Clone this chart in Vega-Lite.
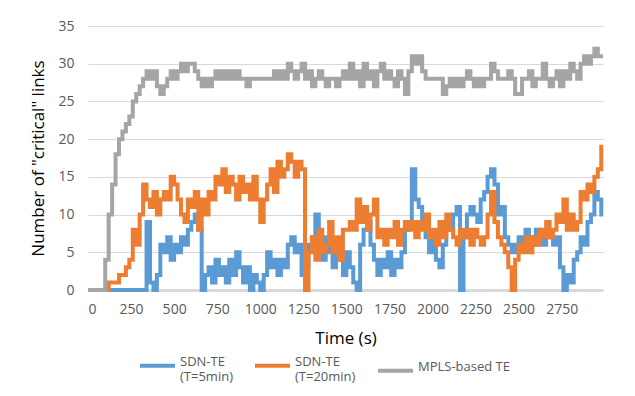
{
"$schema": "https://vega.github.io/schema/vega-lite/v6.json",
"width": 515, "height": 264,
"autosize": "none",
"padding": {"left": 88, "top": 26, "right": 32, "bottom": 106},
"background": "white",
"config": {"view": {"stroke": null}, "font": "Open Sans"},
"data": {"values": [
{"t":0,"b":0,"o":0,"g":0},{"t":20,"b":0,"o":0,"g":0},{"t":40,"b":0,"o":0,"g":0},{"t":60,"b":0,"o":0,"g":0},{"t":80,"b":0,"o":0,"g":0},
{"t":100,"b":0,"o":0,"g":4},{"t":120,"b":0,"o":1,"g":10},{"t":140,"b":0,"o":1,"g":14},{"t":160,"b":0,"o":1,"g":18},{"t":180,"b":0,"o":2,"g":20},
{"t":200,"b":0,"o":2,"g":21},{"t":220,"b":0,"o":3,"g":22},{"t":240,"b":0,"o":4,"g":23},{"t":260,"b":0,"o":8,"g":25},{"t":280,"b":0,"o":6,"g":26},
{"t":300,"b":0,"o":10,"g":27},{"t":320,"b":0,"o":14,"g":28},{"t":340,"b":9,"o":12,"g":29},{"t":360,"b":1,"o":11,"g":28},{"t":380,"b":0,"o":13,"g":29},
{"t":400,"b":2,"o":10,"g":27},{"t":420,"b":6,"o":12,"g":26},{"t":440,"b":5,"o":13,"g":27},{"t":460,"b":7,"o":12,"g":28},{"t":480,"b":4,"o":15,"g":29},
{"t":500,"b":6,"o":14,"g":28},{"t":520,"b":5,"o":12,"g":29},{"t":540,"b":7,"o":10,"g":30},{"t":560,"b":6,"o":9,"g":29},{"t":580,"b":8,"o":12,"g":30},
{"t":600,"b":9,"o":11,"g":30},{"t":620,"b":10,"o":13,"g":29},{"t":640,"b":8,"o":8,"g":28},{"t":660,"b":0,"o":12,"g":27},{"t":680,"b":2,"o":10,"g":28},
{"t":700,"b":3,"o":13,"g":27},{"t":720,"b":1,"o":12,"g":28},{"t":740,"b":4,"o":15,"g":29},{"t":760,"b":2,"o":14,"g":28},{"t":780,"b":3,"o":16,"g":29},
{"t":800,"b":1,"o":13,"g":28},{"t":820,"b":4,"o":15,"g":29},{"t":840,"b":2,"o":14,"g":28},{"t":860,"b":5,"o":12,"g":29},{"t":880,"b":3,"o":15,"g":28},
{"t":900,"b":1,"o":13,"g":28},{"t":920,"b":3,"o":14,"g":27},{"t":940,"b":0,"o":12,"g":28},{"t":960,"b":2,"o":15,"g":28},{"t":980,"b":1,"o":12,"g":28},
{"t":1000,"b":0,"o":9,"g":28},{"t":1020,"b":2,"o":12,"g":28},{"t":1040,"b":5,"o":14,"g":28},{"t":1060,"b":3,"o":16,"g":28},{"t":1080,"b":4,"o":13,"g":29},
{"t":1100,"b":2,"o":17,"g":28},{"t":1120,"b":4,"o":15,"g":29},{"t":1140,"b":3,"o":16,"g":28},{"t":1160,"b":6,"o":18,"g":30},{"t":1180,"b":7,"o":17,"g":29},
{"t":1200,"b":5,"o":15,"g":28},{"t":1220,"b":6,"o":17,"g":29},{"t":1240,"b":2,"o":16,"g":30},{"t":1260,"b":3,"o":0,"g":28},{"t":1280,"b":6,"o":5,"g":29},
{"t":1300,"b":7,"o":7,"g":27},{"t":1320,"b":10,"o":4,"g":28},{"t":1340,"b":6,"o":8,"g":29},{"t":1360,"b":4,"o":5,"g":28},{"t":1380,"b":7,"o":6,"g":27},
{"t":1400,"b":5,"o":9,"g":28},{"t":1420,"b":3,"o":5,"g":28},{"t":1440,"b":6,"o":7,"g":27},{"t":1460,"b":4,"o":4,"g":28},{"t":1480,"b":2,"o":8,"g":29},
{"t":1500,"b":5,"o":8,"g":28},{"t":1520,"b":3,"o":9,"g":30},{"t":1540,"b":1,"o":8,"g":28},{"t":1560,"b":0,"o":12,"g":29},{"t":1580,"b":6,"o":9,"g":27},
{"t":1600,"b":8,"o":11,"g":30},{"t":1620,"b":9,"o":8,"g":28},{"t":1640,"b":6,"o":10,"g":29},{"t":1660,"b":4,"o":12,"g":27},{"t":1680,"b":2,"o":7,"g":29},
{"t":1700,"b":4,"o":8,"g":30},{"t":1720,"b":3,"o":6,"g":28},{"t":1740,"b":5,"o":8,"g":29},{"t":1760,"b":2,"o":7,"g":28},{"t":1780,"b":4,"o":9,"g":27},
{"t":1800,"b":3,"o":6,"g":29},{"t":1820,"b":5,"o":8,"g":28},{"t":1840,"b":8,"o":9,"g":26},{"t":1860,"b":9,"o":8,"g":29},{"t":1880,"b":16,"o":9,"g":31},
{"t":1900,"b":12,"o":7,"g":30},{"t":1920,"b":11,"o":9,"g":31},{"t":1940,"b":9,"o":8,"g":29},{"t":1960,"b":7,"o":10,"g":28},{"t":1980,"b":5,"o":7,"g":28},
{"t":2000,"b":7,"o":8,"g":28},{"t":2020,"b":4,"o":6,"g":28},{"t":2040,"b":3,"o":9,"g":28},{"t":2060,"b":6,"o":7,"g":26},{"t":2080,"b":9,"o":10,"g":27},
{"t":2100,"b":8,"o":8,"g":28},{"t":2120,"b":10,"o":7,"g":27},{"t":2140,"b":11,"o":6,"g":28},{"t":2160,"b":0,"o":8,"g":27},{"t":2180,"b":7,"o":7,"g":28},
{"t":2200,"b":10,"o":8,"g":29},{"t":2220,"b":11,"o":6,"g":28},{"t":2240,"b":10,"o":8,"g":27},{"t":2260,"b":9,"o":7,"g":28},{"t":2280,"b":12,"o":6,"g":27},
{"t":2300,"b":13,"o":7,"g":28},{"t":2320,"b":15,"o":10,"g":28},{"t":2340,"b":16,"o":13,"g":30},{"t":2360,"b":14,"o":9,"g":29},{"t":2380,"b":10,"o":7,"g":28},
{"t":2400,"b":11,"o":6,"g":28},{"t":2420,"b":7,"o":5,"g":28},{"t":2440,"b":6,"o":3,"g":29},{"t":2460,"b":5,"o":0,"g":28},{"t":2480,"b":6,"o":4,"g":26},
{"t":2500,"b":7,"o":6,"g":26},{"t":2520,"b":6,"o":5,"g":28},{"t":2540,"b":8,"o":7,"g":28},{"t":2560,"b":7,"o":5,"g":29},{"t":2580,"b":6,"o":7,"g":27},
{"t":2600,"b":8,"o":6,"g":28},{"t":2620,"b":7,"o":8,"g":28},{"t":2640,"b":6,"o":7,"g":30},{"t":2660,"b":8,"o":9,"g":28},{"t":2680,"b":7,"o":7,"g":27},
{"t":2700,"b":6,"o":8,"g":28},{"t":2720,"b":7,"o":10,"g":29},{"t":2740,"b":3,"o":9,"g":27},{"t":2760,"b":0,"o":12,"g":29},{"t":2780,"b":2,"o":8,"g":28},
{"t":2800,"b":1,"o":10,"g":30},{"t":2820,"b":4,"o":8,"g":29},{"t":2840,"b":5,"o":9,"g":28},{"t":2860,"b":7,"o":13,"g":30},{"t":2880,"b":6,"o":12,"g":31},
{"t":2900,"b":9,"o":14,"g":30},{"t":2920,"b":10,"o":13,"g":31},{"t":2940,"b":13,"o":15,"g":32},{"t":2960,"b":12,"o":16,"g":31},{"t":2980,"b":10,"o":19,"g":31},
{"t":2990,"b":10,"o":19,"g":31}
]},
"transform": [{"fold": ["b","o","g"], "as": ["s","v"]}],
"mark": {"type": "line", "interpolate": "step-after", "strokeWidth": 4},
"encoding": {
  "x": {"field": "t", "type": "quantitative",
    "scale": {"domain": [0, 2990], "nice": false, "zero": false},
    "axis": {"values": [0,250,500,750,1000,1250,1500,1750,2000,2250,2500,2750],
      "format": "d",
      "title": "Time (s)", "grid": false, "ticks": false,
      "domainColor": "#d9d9d9", "domainWidth": 3,
      "labelFontSize": 14, "labelColor": "#595959", "labelPadding": 12,
      "titleFontSize": 17, "titleFontWeight": "normal", "titleColor": "#000000",
      "titleY": 48, "titleBaseline": "middle"}},
  "y": {"field": "v", "type": "quantitative",
    "scale": {"domain": [0, 35], "nice": false},
    "axis": {"values": [0,5,10,15,20,25,30,35],
      "title": "Number of \"critical\" links", "domain": false, "ticks": false,
      "gridColor": "#d9d9d9", "gridWidth": 1,
      "labelFontSize": 14, "labelColor": "#595959", "labelPadding": 14,
      "titleFontSize": 17, "titleFontWeight": "normal", "titleColor": "#000000",
      "titleX": -50, "titleY": 132, "titleAngle": 270, "titleAlign": "center", "titleBaseline": "middle"}},
  "color": {"field": "s", "type": "nominal",
    "scale": {"domain": ["b","o","g"], "range": ["#5b9bd5","#ed7d31","#a5a5a5"]},
    "legend": {"orient": "none", "legendX": 50, "legendY": 320, "direction": "horizontal",
      "title": null, "symbolType": "stroke", "symbolSize": 1225, "symbolStrokeWidth": 4,
      "labelFontSize": 13, "labelColor": "#595959", "labelOffset": 3, "columnPadding": 14,
      "labelAlign": "left", "labelBaseline": "alphabetic", "labelLineHeight": 19,
      "labelExpr": "datum.label == 'b' ? ['SDN-TE','(T=5min)'] : datum.label == 'o' ? ['SDN-TE','(T=20min)'] : 'MPLS-based TE'"}}
}
}
